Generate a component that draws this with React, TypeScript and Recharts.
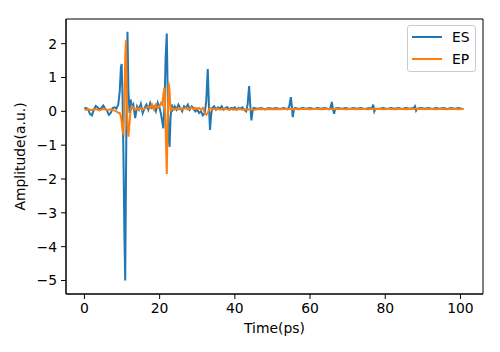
import React from 'react';
import { LineChart, Line, XAxis, YAxis, ReferenceArea, Legend } from 'recharts';

// Time axis (ps)
const TIME = [
  0, 0.5, 1, 1.5, 2, 2.5, 3, 3.5, 4, 4.5, 5, 5.5, 6, 6.5, 7, 7.5, 8, 8.5, 9,
  9.4, 9.7, 9.9, 10.15, 10.4, 10.65, 10.85, 11.05, 11.25, 11.45, 11.7, 12.0, 12.3, 12.6,
  13, 13.5, 14, 14.5, 15, 15.5, 16, 16.5, 17, 17.5, 18, 18.5, 19, 19.5, 20, 20.4,
  20.7, 21.0, 21.3, 21.6, 21.9, 22.15, 22.4, 22.65, 22.9, 23.2, 23.5,
  24, 24.5, 25, 25.5, 26, 26.5, 27, 27.5, 28, 28.5, 29, 29.5, 30, 30.5, 31, 31.5, 32,
  32.4, 32.8, 33.1, 33.4, 33.7, 34, 34.5,
  35, 35.5, 36, 36.5, 37, 37.5, 38, 38.5, 39, 39.5, 40, 40.5, 41, 41.5, 42, 42.5, 43,
  43.4, 43.8, 44.1, 44.4, 44.7, 45,
  46, 47, 48, 49, 50, 51, 52, 53, 54, 54.5,
  54.9, 55.2, 55.4, 55.7,
  56, 57, 58, 59, 60, 61, 62, 63, 64, 65,
  65.5, 65.8, 66.1, 66.4, 66.7,
  67.5, 68.5, 69.5, 70.5, 71.5, 72.5, 73.5, 74.5, 75.5, 76.5, 76.8, 77.1, 77.4,
  78.5, 79.5, 80.5, 81.5, 82.5, 83.5, 84.5, 85.5, 86.5, 87.6, 87.9, 88.2, 88.5,
  89.5, 90.5, 91.5, 92.5, 93.5, 94.5, 95.5, 96.5, 97.5, 98.5, 99.5, 100.5, 100.8,
];

// ES amplitude (a.u.)
const ES = [
  0.1, 0.1, 0.05, -0.08, -0.12, 0.05, 0.16, 0.12, 0.05, 0.1, 0.17, 0.08, 0.02, -0.1, -0.05, 0.1, 0.12, 0.08, 0.2,
  0.6, 1.3, 1.4, 0.4, -1.5, -3.8, -5.0, -2.0, 0.8, 2.35, 0.6, -0.05, 0.35, 0.1,
  0.2, -0.2, 0.15, 0.05, 0.22, -0.05, 0.1, 0.2, 0.05, 0.25, 0.1, 0.15, 0.0, 0.25, 0.1, -0.1,
  -0.3, -0.5, 0.2, 1.6, 2.3, 0.5, -0.8, -1.05, -0.2, 0.2, 0.05,
  0.15, 0.05, 0.2, 0.1, 0.0, 0.15, 0.1, 0.2, 0.05, 0.15, 0.1, 0.0, 0.05, -0.05, 0.0, -0.12, -0.05,
  0.3, 1.25, 0.2, -0.55, -0.1, 0.1, 0.15,
  0.05, 0.12, 0.08, 0.15, 0.05, 0.1, 0.12, 0.05, 0.1, 0.08, 0.12, 0.05, 0.1, 0.08, 0.12, 0.05, 0.0,
  0.2, 0.75, 0.2, -0.27, 0.0, 0.1,
  0.08, 0.1, 0.06, 0.1, 0.08, 0.1, 0.07, 0.1, 0.06, 0.15,
  0.42, 0.1, -0.17, 0.05,
  0.1, 0.07, 0.1, 0.08, 0.1, 0.07, 0.1, 0.08, 0.1, 0.06,
  0.12, 0.28, 0.05, -0.07, 0.08,
  0.1, 0.08, 0.1, 0.07, 0.1, 0.08, 0.1, 0.07, 0.09, 0.1, 0.2, 0.0, 0.08,
  0.08, 0.1, 0.07, 0.1, 0.08, 0.1, 0.07, 0.1, 0.08, 0.1, 0.15, 0.02, 0.08,
  0.1, 0.08, 0.1, 0.07, 0.1, 0.08, 0.1, 0.07, 0.1, 0.08, 0.1, 0.07, 0.08,
];

// EP amplitude (a.u.)
const EP = [
  0.05, 0.05, 0.06, 0.05, 0.04, 0.06, 0.07, 0.05, 0.03, 0.05, 0.07, 0.06, 0.04, 0.05, 0.06, 0.04, 0.02, 0.0, -0.04,
  -0.05, -0.15, -0.3, -0.6, -0.65, 0.4, 1.6, 2.1, 0.6, -0.4, -0.75, -0.35, 0.05, 0.15,
  0.1, 0.05, 0.1, 0.05, 0.1, 0.05, 0.08, 0.1, 0.15, 0.1, 0.2, 0.05, 0.2, 0.1, 0.15, 0.25,
  0.2, 0.5, 0.7, -0.5, -1.85, -0.3, 0.85, 0.6, 0.0, 0.1, 0.08,
  0.05, 0.08, 0.05, 0.1, 0.05, 0.08, 0.1, 0.05, 0.08, 0.12, 0.05, 0.1, 0.08, 0.1, 0.05, 0.1, -0.05,
  -0.1, -0.05, 0.05, 0.1, 0.08, 0.05, 0.08,
  0.05, 0.08, 0.05, 0.07, 0.05, 0.08, 0.06, 0.05, 0.07, 0.05, 0.06, 0.05, 0.07, 0.06, 0.05, 0.06, 0.05,
  0.05, 0.06, 0.05, 0.05, 0.06, 0.05,
  0.06, 0.07, 0.06, 0.07, 0.06, 0.07, 0.06, 0.07, 0.07, 0.07,
  0.07, 0.07, 0.06, 0.07,
  0.07, 0.06, 0.07, 0.07, 0.06, 0.07, 0.07, 0.06, 0.07, 0.07,
  0.07, 0.07, 0.07, 0.06, 0.07,
  0.07, 0.07, 0.06, 0.07, 0.07, 0.06, 0.07, 0.07, 0.06, 0.07, 0.07, 0.07, 0.07,
  0.07, 0.06, 0.07, 0.07, 0.06, 0.07, 0.07, 0.06, 0.07, 0.07, 0.07, 0.07, 0.07,
  0.07, 0.06, 0.07, 0.07, 0.06, 0.07, 0.07, 0.06, 0.07, 0.07, 0.06, 0.07, 0.07,
];

const X_TICKS = [0, 20, 40, 60, 80, 100];
const Y_TICKS = [-5, -4, -3, -2, -1, 0, 1, 2];
const X_DOMAIN: [number, number] = [-4.9, 106];
const Y_DOMAIN: [number, number] = [-5.4, 2.73];

const SERIES = [
  { key: 'ES', name: 'ES', color: '#1f77b4' },
  { key: 'EP', name: 'EP', color: '#ff7f0e' },
];

const data = TIME.map((t, i) => ({ t, ES: ES[i], EP: EP[i] }));

const FONT = 'DejaVu Sans';
const FS = 13.9;

const fmt = (v: number) => String(v).replace('-', '\u2212');

const renderLegend = () => (
  <div
    style={{
      width: 69,
      height: 47,
      boxSizing: 'border-box',
      border: '1px solid #cccccc',
      borderRadius: 3,
      background: 'rgba(255,255,255,0.8)',
      fontFamily: FONT,
      fontSize: FS,
      color: '#000',
      position: 'relative',
    }}
  >
    {SERIES.map((s, i) => (
      <div
        key={s.key}
        style={{
          position: 'absolute',
          left: 4,
          top: 3 + i * 22,
          height: 16,
          display: 'flex',
          alignItems: 'center',
          whiteSpace: 'nowrap',
        }}
      >
        <svg width={30} height={4} style={{ display: 'block' }}>
          <line x1={0} y1={2} x2={30} y2={2} stroke={s.color} strokeWidth={2} />
        </svg>
        <span style={{ marginLeft: 10, lineHeight: '16px' }}>{s.name}</span>
      </div>
    ))}
  </div>
);

export default function App() {
  return (
    <div style={{ position: 'absolute', left: 0, top: 0, width: 500, height: 352, background: '#fff' }}>
      <LineChart
        width={500}
        height={352}
        data={data}
        margin={{ top: 19, right: 17, bottom: 0, left: 0 }}
      >
        <XAxis
          dataKey="t"
          type="number"
          domain={X_DOMAIN}
          ticks={X_TICKS}
          allowDataOverflow
          height={58}
          tickFormatter={fmt}
          tick={{ fill: '#000', fontSize: FS, fontFamily: FONT }}
          tickLine={{ stroke: '#000' }}
          axisLine={{ stroke: '#000' }}
          tickSize={5}
          tickMargin={4}
          label={{
            content: (props: any) => {
              const vb = props.viewBox || { x: 66, y: 294, width: 417 };
              return (
                <text
                  x={vb.x + vb.width / 2}
                  y={vb.y + 39}
                  textAnchor="middle"
                  fill="#000"
                  fontSize={FS}
                  fontFamily={FONT}
                >
                  Time(ps)
                </text>
              );
            },
          }}
        />
        <YAxis
          type="number"
          domain={Y_DOMAIN}
          ticks={Y_TICKS}
          allowDataOverflow
          width={66}
          tickFormatter={fmt}
          tick={{ fill: '#000', fontSize: FS, fontFamily: FONT }}
          tickLine={{ stroke: '#000' }}
          axisLine={{ stroke: '#000' }}
          tickSize={5}
          tickMargin={4}
          label={{
            content: (props: any) => {
              const vb = props.viewBox || { x: 0, y: 19, height: 275 };
              const cx = vb.x + 25;
              const cy = vb.y + vb.height / 2;
              return (
                <text
                  x={cx}
                  y={cy}
                  transform={`rotate(-90, ${cx}, ${cy})`}
                  textAnchor="middle"
                  fill="#000"
                  fontSize={FS}
                  fontFamily={FONT}
                >
                  Amplitude(a.u.)
                </text>
              );
            },
          }}
        />
        <ReferenceArea
          x1={X_DOMAIN[0]}
          x2={X_DOMAIN[1]}
          y1={Y_DOMAIN[0]}
          y2={Y_DOMAIN[1]}
          fill="none"
          fillOpacity={0}
          stroke="#000"
          strokeWidth={1}
          ifOverflow="visible"
        />
        {SERIES.map((s) => (
          <Line
            key={s.key}
            dataKey={s.key}
            name={s.name}
            type="linear"
            stroke={s.color}
            strokeWidth={2}
            dot={false}
            activeDot={false}
            isAnimationActive={false}
          />
        ))}
        <Legend
          layout="vertical"
          align="center"
          verticalAlign="middle"
          content={renderLegend}
          wrapperStyle={{ left: 407, top: 25, width: 69, height: 47 }}
        />
      </LineChart>
    </div>
  );
}
